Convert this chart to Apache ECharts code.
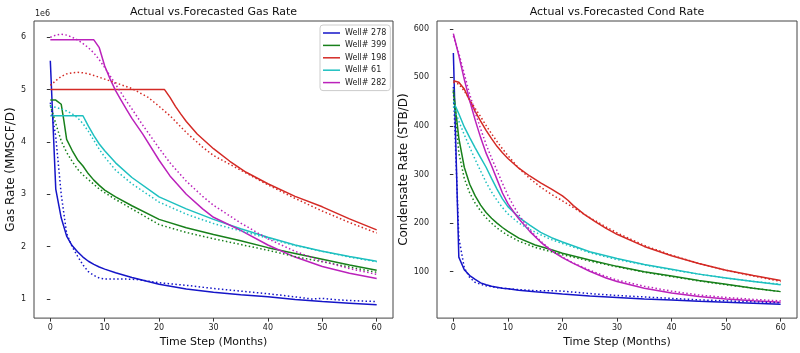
<!DOCTYPE html>
<html><head><meta charset="utf-8">
<script src="https://cdn.jsdelivr.net/npm/echarts@6/dist/echarts.min.js"></script>
<style>html,body{margin:0;padding:0;background:#fff}#c{width:800px;height:353px}</style>
</head><body><div id="c"></div><script>
const wells = ['Well# 278','Well# 399','Well# 198','Well# 61','Well# 282'];
const colors = ['#1515c8','#18801b','#d42a25','#1ec0c0','#bb22bb'];
const xTicks = [0,10,20,30,40,50,60];
const gasTicks = [1,2,3,4,5,6];
const condTicks = [100,200,300,400,500,600];

// Gas rate (units of 1e6 MMSCF/D) — [month, value]
const gasAct278 = [[0,5.55],[1,3.1],[2,2.55],[3,2.2],[4,2.02],[5,1.9],[6,1.8],[7,1.72],[8,1.66],[9,1.61],[10,1.57],[12,1.5],[15,1.41],[20,1.28],[25,1.19],[30,1.13],[35,1.08],[40,1.04],[45,0.99],[50,0.95],[55,0.92],[60,0.89]];
const gasFc278  = [[0,4.75],[1,4.1],[2,3.0],[3,2.25],[4,2.0],[5,1.82],[6,1.65],[7,1.52],[8,1.45],[9,1.4],[10,1.38],[12,1.38],[14,1.38],[16,1.37],[20,1.31],[25,1.26],[30,1.2],[35,1.15],[40,1.1],[45,1.04],[48,1.0],[50,1.01],[52,0.99],[55,0.97],[60,0.95]];
const gasAct399 = [[0,4.8],[1,4.8],[2,4.72],[2.5,4.4],[3,4.05],[4,3.84],[5,3.66],[6,3.54],[7,3.39],[8,3.27],[9,3.17],[10,3.08],[12,2.95],[15,2.78],[20,2.52],[25,2.36],[30,2.23],[35,2.11],[40,1.98],[45,1.87],[50,1.76],[55,1.65],[60,1.55]];
const gasFc399  = [[0,4.7],[1,4.35],[2,4.02],[3,3.8],[4,3.63],[5,3.48],[6,3.37],[7,3.28],[8,3.19],[9,3.1],[10,3.03],[12,2.9],[15,2.72],[20,2.42],[25,2.27],[30,2.15],[35,2.04],[40,1.93],[45,1.81],[50,1.71],[55,1.61],[60,1.51]];
const gasAct198 = [[0,5.0],[21,5.0],[22,4.85],[23,4.68],[24,4.53],[25,4.39],[27,4.15],[30,3.87],[33,3.63],[36,3.42],[40,3.2],[45,2.96],[50,2.76],[55,2.53],[60,2.32]];
const gasFc198  = [[0,5.08],[1,5.17],[2,5.25],[3,5.3],[4,5.32],[5,5.33],[6,5.32],[7,5.3],[8,5.27],[10,5.2],[12,5.13],[15,5.02],[18,4.85],[20,4.68],[22,4.5],[25,4.18],[28,3.9],[30,3.74],[35,3.46],[40,3.18],[45,2.92],[50,2.68],[55,2.46],[60,2.26]];
const gasAct61  = [[0,4.5],[6,4.5],[7,4.3],[8,4.12],[9,3.96],[10,3.83],[12,3.6],[15,3.32],[20,2.95],[25,2.72],[30,2.52],[35,2.34],[40,2.18],[45,2.03],[50,1.91],[55,1.81],[60,1.72]];
const gasFc61   = [[0,4.68],[1,4.66],[2,4.63],[3,4.59],[4,4.54],[5,4.46],[6,4.35],[7,4.2],[8,4.03],[9,3.86],[10,3.71],[12,3.46],[15,3.2],[20,2.85],[25,2.62],[30,2.44],[35,2.3],[40,2.16],[45,2.02],[50,1.91],[55,1.8],[60,1.71]];
const gasAct282 = [[0,5.95],[8,5.95],[9,5.8],[10,5.45],[11,5.2],[12,4.98],[13,4.8],[14,4.62],[15,4.45],[17,4.15],[20,3.65],[22,3.35],[25,3.0],[28,2.72],[30,2.56],[35,2.31],[40,2.03],[45,1.8],[50,1.62],[55,1.49],[60,1.39]];
const gasFc282  = [[0,6.0],[1,6.04],[2,6.06],[3,6.04],[4,6.0],[5,5.95],[6,5.88],[7,5.8],[8,5.7],[9,5.57],[10,5.42],[11,5.26],[12,5.1],[13,4.94],[14,4.78],[15,4.63],[17,4.32],[20,3.88],[22,3.6],[25,3.25],[28,2.96],[30,2.79],[35,2.45],[40,2.15],[45,1.91],[50,1.72],[55,1.58],[60,1.47]];

// Condensate rate (STB/D) — [month, value]
const condAct278 = [[0,550],[1,130],[2,104],[3,92],[4,84],[5,77],[6,73],[7,70],[8,68],[9,66],[10,65],[12,62],[15,58.5],[20,54],[25,50],[30,47],[35,44],[40,42],[45,39],[50,37],[55,35],[60,33]];
const condFc278  = [[0,480],[1,170],[2,108],[3,88],[4,78],[5,74],[6,71],[7,69],[8,67],[9,66],[10,65],[12,63],[15,61],[18,61],[20,60],[25,55],[30,51],[35,48],[40,45],[45,42],[50,40],[55,38],[60,36]];
const condAct399 = [[0,475],[1,375],[2,315],[3,280],[4,256],[5,237],[6,222],[7,210],[8,200],[9,191],[10,183],[12,169],[15,155],[18,145],[20,138],[25,124],[30,111],[35,100],[40,91],[45,82],[50,74],[55,66],[60,59]];
const condFc399  = [[0,470],[1,345],[2,292],[3,262],[4,241],[5,225],[6,211],[7,200],[8,190],[9,182],[10,175],[12,163],[15,150],[18,141],[20,135],[25,122],[30,110],[35,99],[40,90],[45,81],[50,73],[55,66],[60,59]];
const condAct198 = [[0,493],[1,490],[2,476],[3,452],[4,430],[5,410],[6,391],[7,374],[8,358],[9,345],[10,333],[12,313],[14,297],[16,283],[18,270],[20,256],[21,247],[22,236],[24,218],[26,203],[28,189],[30,177],[35,152],[40,133],[45,117],[50,103],[55,92],[60,82]];
const condFc198  = [[0,490],[1,486],[2,472],[3,454],[4,436],[5,419],[6,401],[7,384],[8,368],[9,353],[10,339],[12,313],[14,292],[16,274],[18,259],[20,246],[22,232],[24,218],[26,205],[28,192],[30,180],[35,154],[40,134],[45,117],[50,103],[55,91],[60,80]];
const condAct61  = [[0,450],[1,425],[2,398],[3,376],[4,355],[5,335],[6,315],[7,292],[8,270],[9,250],[10,234],[12,212],[14,196],[16,181],[18,170],[20,161],[25,141],[30,127],[35,115],[40,105],[45,95],[50,87],[55,80],[60,73]];
const condFc61   = [[0,440],[1,410],[2,382],[3,356],[4,331],[5,307],[6,284],[7,264],[8,247],[9,232],[10,219],[12,200],[14,187],[16,176],[18,166],[20,158],[25,139],[30,125],[35,114],[40,104],[45,95],[50,87],[55,80],[60,74]];
const condAct282 = [[0,590],[1,545],[2,496],[3,452],[4,412],[5,376],[6,344],[7,318],[8,290],[9,262],[10,240],[11,224],[12,209],[14,183],[16,161],[18,143],[20,129],[22,117],[25,101],[28,87],[30,80],[35,66],[40,56],[45,49],[50,44],[55,40],[60,37]];
const condFc282  = [[0,585],[1,550],[2,507],[3,465],[4,428],[5,394],[6,362],[7,334],[8,308],[9,282],[10,257],[11,236],[12,217],[14,186],[16,163],[18,144],[20,130],[22,118],[25,103],[28,90],[30,83],[35,70],[40,60],[45,52],[50,47],[55,43],[60,40]];

const gasActual = [gasAct278, gasAct399, gasAct198, gasAct61, gasAct282];
const gasForecast = [gasFc278, gasFc399, gasFc198, gasFc61, gasFc282];
const condActual = [condAct278, condAct399, condAct198, condAct61, condAct282];
const condForecast = [condFc278, condFc399, condFc198, condFc61, condFc282];

const FONT = 'DejaVu Sans';
function mk(name, data, color, dotted, gi) {
  return {
    type: 'line', name: name, data: data, xAxisIndex: gi, yAxisIndex: gi,
    symbol: 'none', showSymbol: false, silent: true, animation: false,
    lineStyle: { color: color, width: 1.5, type: dotted ? [1.5, 2.4] : 'solid' },
    itemStyle: { color: color }, z: dotted ? 3 : 2
  };
}
const series = [];
for (let i = 0; i < wells.length; i++) {
  series.push(mk(wells[i], gasActual[i], colors[i], false, 0));
  series.push(mk(wells[i] + ' fc', gasForecast[i], colors[i], true, 0));
  series.push(mk(wells[i], condActual[i], colors[i], false, 1));
  series.push(mk(wells[i] + ' fc', condForecast[i], colors[i], true, 1));
}
function xAx(gi) {
  return {
    type: 'value', gridIndex: gi, min: -3, max: 63,
    splitLine: { show: false }, axisLine: { show: false },
    axisTick: { show: true, customValues: xTicks, length: 3.5, lineStyle: { color: '#333' } },
    axisLabel: { customValues: xTicks, fontSize: 8, color: '#222', margin: 6, fontFamily: FONT },
    name: 'Time Step (Months)', nameLocation: 'middle', nameGap: 14,
    nameTextStyle: { fontSize: 11, color: '#111', fontFamily: FONT }
  };
}
function yAx(gi, mn, mx, ticks, name, gap) {
  return {
    type: 'value', gridIndex: gi, min: mn, max: mx,
    splitLine: { show: false }, axisLine: { show: false },
    axisTick: { show: true, customValues: ticks, length: 3.5, lineStyle: { color: '#333' } },
    axisLabel: { customValues: ticks, fontSize: 8, color: '#222', margin: 8, fontFamily: FONT },
    name: name, nameLocation: 'middle', nameGap: gap,
    nameTextStyle: { fontSize: 12, color: '#111', fontFamily: FONT }
  };
}
const chart = echarts.init(document.getElementById('c'), null, { renderer: 'canvas' });
chart.setOption({
  backgroundColor: '#fff',
  animation: false,
  title: [
    { text: 'Actual vs.Forecasted Gas Rate', left: 213.5, top: 7, textAlign: 'center', padding: 0,
      textStyle: { fontSize: 11, fontWeight: 'normal', color: '#111', fontFamily: FONT } },
    { text: 'Actual vs.Forecasted Cond Rate', left: 617, top: 7, textAlign: 'center', padding: 0,
      textStyle: { fontSize: 11, fontWeight: 'normal', color: '#111', fontFamily: FONT } }
  ],
  grid: [
    { left: 34, top: 21, width: 359, height: 299, show: true, borderColor: '#444', borderWidth: 1, backgroundColor: '#fff' },
    { left: 437, top: 21, width: 360, height: 299, show: true, borderColor: '#444', borderWidth: 1, backgroundColor: '#fff' }
  ],
  xAxis: [xAx(0), xAx(1)],
  yAxis: [
    yAx(0, 0.634, 6.31, gasTicks, 'Gas Rate (MMSCF/D)', 13),
    yAx(1, 4.5, 616, condTicks, 'Condensate Rate (STB/D)', 22)
  ],
  legend: {
    data: wells, orient: 'vertical', left: 320, top: 25,
    icon: 'path://M0,0 L17,0 L17,1.5 L0,1.5 Z',
    padding: [4, 4, 4, 3], itemWidth: 17, itemHeight: 8, itemGap: 4.4,
    borderColor: '#ccc', borderWidth: 1, borderRadius: 3, backgroundColor: 'rgba(255,255,255,0.85)',
    textStyle: { fontSize: 8, color: '#222', fontFamily: FONT, lineHeight: 8 },
    selectedMode: false
  },
  graphic: [
    { type: 'text', left: 35, top: 10, style: { text: '1e6', fontSize: 8, fill: '#222', fontFamily: FONT } }
  ],
  series: series
});
</script></body></html>
